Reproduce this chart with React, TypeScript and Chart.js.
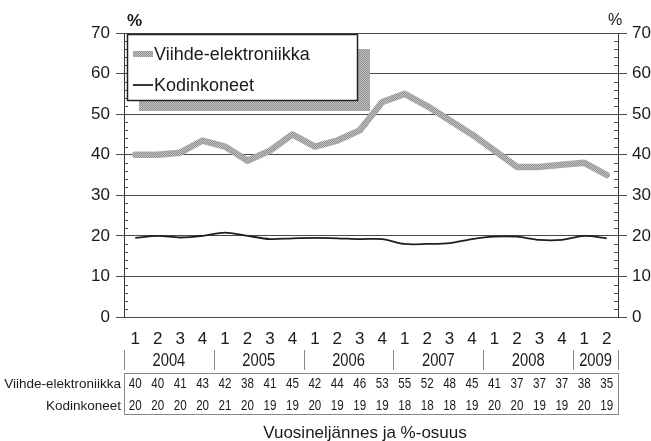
import React, { useEffect, useRef } from "react";
import { Chart, registerables } from "chart.js";

Chart.register(...registerables);

const quarterLabels = ["1","2","3","4","1","2","3","4","1","2","3","4","1","2","3","4","1","2","3","4","1","2"];
const yearLabels = ["2004", "2005", "2006", "2007", "2008", "2009"];
const quartersPerYear = [4, 4, 4, 4, 4, 2];

// line values
const viihdeLine = [40, 40, 40.5, 43.5, 42, 38.5, 41, 45, 42, 43.5, 46, 53, 55, 52, 48.5, 45, 41, 37, 37, 37.5, 38, 35];
const kodinLine = [19.5, 20, 19.6, 20, 20.8, 20, 19.2, 19.4, 19.5, 19.4, 19.2, 19.2, 18, 18, 18.2, 19.2, 19.8, 19.8, 19, 19, 20, 19.4];

// table values printed under the chart
const viihdeTable = [40, 40, 41, 43, 42, 38, 41, 45, 42, 44, 46, 53, 55, 52, 48, 45, 41, 37, 37, 37, 38, 35];
const kodinTable = [20, 20, 20, 20, 21, 20, 19, 19, 20, 19, 19, 19, 18, 18, 18, 19, 20, 20, 19, 19, 20, 19];

const seriesNames = ["Viihde-elektroniikka", "Kodinkoneet"];
const axisTitle = "Vuosineljännes ja %-osuus";
const yMin = 0;
const yMax = 70;
const yStep = 10;

const SANS = "'Liberation Sans', Arial, sans-serif";

function makePattern(): CanvasPattern | string {
  const c = document.createElement("canvas");
  c.width = 2;
  c.height = 2;
  const g = c.getContext("2d");
  if (!g) return "#aaaaaa";
  g.fillStyle = "#c4c4c4";
  g.fillRect(0, 0, 2, 2);
  g.fillStyle = "#8e8e8e";
  g.fillRect(0, 0, 1, 1);
  g.fillRect(1, 1, 1, 1);
  const p = g.createPattern(c, "repeat");
  return p || "#aaaaaa";
}

function narrowText(ctx: CanvasRenderingContext2D, text: string, x: number, y: number, sx: number) {
  ctx.save();
  ctx.translate(x, y);
  ctx.scale(sx, 1);
  ctx.fillText(text, 0, 0);
  ctx.restore();
}

export default function App() {
  const ref = useRef<HTMLCanvasElement | null>(null);

  useEffect(() => {
    const canvas = ref.current;
    if (!canvas) return;
    const pattern = makePattern();

    const decor = {
      id: "decor",
      afterDraw(chart: any) {
        const ctx = chart.ctx as CanvasRenderingContext2D;
        const x = chart.scales.x;
        const y = chart.scales.y;
        const area = chart.chartArea;
        ctx.save();

        // minor ticks
        ctx.strokeStyle = "#555";
        ctx.lineWidth = 1;
        for (let v = yMin; v <= yMax; v += 2) {
          if (v % yStep === 0) continue;
          const py = Math.round(y.getPixelForValue(v)) + 0.5;
          ctx.beginPath();
          ctx.moveTo(area.left, py);
          ctx.lineTo(area.left + 4, py);
          ctx.moveTo(area.right - 4, py);
          ctx.lineTo(area.right, py);
          ctx.stroke();
        }

        const n = quarterLabels.length;
        const half = (x.getPixelForValue(1) - x.getPixelForValue(0)) / 2;
        const leftEdge = x.getPixelForValue(0) - half;
        const rightEdge = x.getPixelForValue(n - 1) + half;

        // quarter labels
        ctx.fillStyle = "#1a1a1a";
        ctx.textAlign = "center";
        ctx.textBaseline = "middle";
        ctx.font = `17px ${SANS}`;
        for (let i = 0; i < n; i++) {
          ctx.fillText(quarterLabels[i], x.getPixelForValue(i), 339);
        }

        // years row
        let idx = 0;
        ctx.font = `18px ${SANS}`;
        ctx.strokeStyle = "#888";
        const sepTop = 350;
        const sepBot = 370;
        const drawSep = (px: number) => {
          ctx.beginPath();
          ctx.moveTo(Math.round(px) + 0.5, sepTop);
          ctx.lineTo(Math.round(px) + 0.5, sepBot);
          ctx.stroke();
        };
        drawSep(leftEdge);
        yearLabels.forEach((lab, k) => {
          const first = idx;
          const last = idx + quartersPerYear[k] - 1;
          const cx = (x.getPixelForValue(first) + x.getPixelForValue(last)) / 2;
          narrowText(ctx, lab, cx, 361, 0.82);
          drawSep(x.getPixelForValue(last) + half);
          idx += quartersPerYear[k];
        });

        // table
        ctx.strokeStyle = "#888";
        ctx.strokeRect(Math.round(leftEdge) + 0.5, 373.5, Math.round(rightEdge - leftEdge), 41);
        ctx.font = `14.5px ${SANS}`;
        for (let i = 0; i < n; i++) {
          const px = x.getPixelForValue(i);
          narrowText(ctx, String(viihdeTable[i]), px, 384, 0.8);
          narrowText(ctx, String(kodinTable[i]), px, 406, 0.8);
        }
        ctx.textAlign = "right";
        ctx.font = `13.5px ${SANS}`;
        ctx.fillText(seriesNames[0], leftEdge - 3, 384);
        ctx.fillText(seriesNames[1], leftEdge - 3, 406);

        // title
        ctx.textAlign = "center";
        ctx.textBaseline = "alphabetic";
        ctx.font = `17px ${SANS}`;
        ctx.fillText(axisTitle, 365, 438);

        // % labels
        ctx.font = `bold 17px ${SANS}`;
        ctx.textAlign = "left";
        ctx.fillText("%", 127, 26);
        ctx.font = `16px ${SANS}`;
        ctx.fillText("%", 608, 25);

        // legend
        ctx.fillStyle = pattern as any;
        ctx.fillRect(139, 49, 231, 62);
        ctx.fillStyle = "#fff";
        ctx.fillRect(127, 34, 230, 66);
        ctx.strokeStyle = "#222";
        ctx.lineWidth = 1.5;
        ctx.strokeRect(127.5, 34.5, 230, 66);
        ctx.lineWidth = 6;
        ctx.strokeStyle = pattern as any;
        ctx.beginPath();
        ctx.moveTo(133, 54);
        ctx.lineTo(153, 54);
        ctx.stroke();
        ctx.lineWidth = 1.8;
        ctx.strokeStyle = "#222";
        ctx.beginPath();
        ctx.moveTo(133, 85);
        ctx.lineTo(153, 85);
        ctx.stroke();
        ctx.fillStyle = "#1a1a1a";
        ctx.font = `18px ${SANS}`;
        ctx.textBaseline = "middle";
        ctx.fillText(seriesNames[0], 154, 55);
        ctx.fillText(seriesNames[1], 154, 86);

        ctx.restore();
      },
    };

    const yRange = {
      min: yMin,
      max: yMax,
    };

    const chart = new Chart(canvas, {
      type: "line",
      data: {
        labels: quarterLabels,
        datasets: [
          {
            label: seriesNames[0],
            data: viihdeLine,
            borderColor: pattern as any,
            borderWidth: 6.5,
            pointRadius: 0,
            tension: 0,
            borderJoinStyle: "round",
            borderCapStyle: "round",
          },
          {
            label: seriesNames[1],
            data: kodinLine,
            borderColor: "#1e1e1e",
            borderWidth: 1.8,
            pointRadius: 0,
            tension: 0.3,
          },
        ],
      },
      options: {
        responsive: false,
        animation: false,
        devicePixelRatio: 1,
        layout: { padding: { top: 33, left: 0, right: 0, bottom: 0 } },
        plugins: { legend: { display: false }, tooltip: { enabled: false } },
        scales: {
          x: {
            type: "category",
            offset: true,
            grid: { display: false },
            border: { display: false },
            ticks: { display: false },
            afterFit: (s: any) => {
              s.height = 124;
            },
          },
          y: {
            position: "left",
            ...yRange,
            ticks: { stepSize: yStep, color: "#1a1a1a", font: { family: SANS, size: 17 }, padding: 6 },
            grid: { color: "#4a4a4a", lineWidth: 1, tickLength: 8, drawTicks: true },
            border: { color: "#333", width: 1 },
            afterFit: (s: any) => {
              s.width = 124;
            },
          },
          y2: {
            position: "right",
            ...yRange,
            ticks: { stepSize: yStep, color: "#1a1a1a", font: { family: SANS, size: 17 }, padding: 5 },
            grid: { drawOnChartArea: false, color: "#4a4a4a", tickLength: 9 },
            border: { color: "#333", width: 1 },
            afterFit: (s: any) => {
              s.width = 33;
            },
          },
        },
      },
      plugins: [decor],
    } as any);

    return () => chart.destroy();
  }, []);

  return (
    <div style={{ position: "fixed", left: 0, top: 0, width: 651, height: 441, background: "#fff" }}>
      <canvas ref={ref} width={651} height={441} style={{ width: 651, height: 441, display: "block" }} />
    </div>
  );
}
